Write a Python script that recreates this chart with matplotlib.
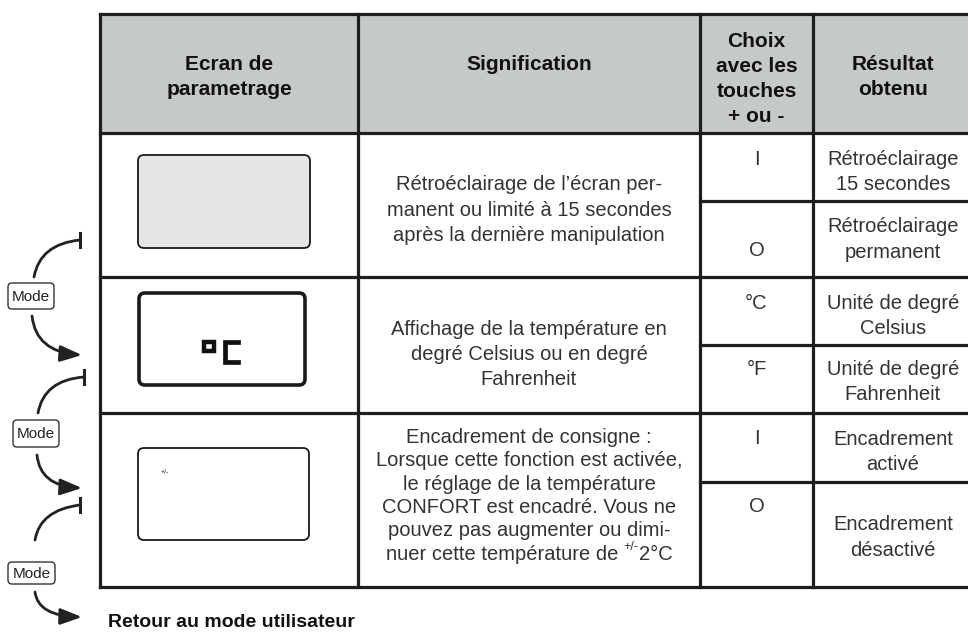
import matplotlib
matplotlib.use("Agg")
import matplotlib.pyplot as plt
from matplotlib.patches import Rectangle, FancyBboxPatch, FancyArrowPatch
from matplotlib.path import Path

plt.rcParams['font.family'] = ['Liberation Sans', 'DejaVu Sans']

# ---------------- data ----------------
headers = [["Ecran de", "parametrage"],
           ["Signification"],
           ["Choix", "avec les", "touches", "+ ou -"],
           ["Résultat", "obtenu"]]

significations = [
    ["Rétroéclairage de l’écran per-", "manent ou limité à 15 secondes",
     "après la dernière manipulation"],
    ["Affichage de la température en", "degré Celsius ou en degré",
     "Fahrenheit"],
    ["Encadrement de consigne :", "Lorsque cette fonction est activée,",
     "le réglage de la température", "CONFORT est encadré. Vous ne",
     "pouvez pas augmenter ou dimi-"],
]
last_line = ["nuer cette température de ", "+/-", "2°C"]

choix = [["I", "O"], ["°C", "°F"], ["I", "O"]]

resultats = [[["Rétroéclairage", "15 secondes"], ["Rétroéclairage", "permanent"]],
             [["Unité de degré", "Celsius"], ["Unité de degré", "Fahrenheit"]],
             [["Encadrement", "activé"], ["Encadrement", "désactivé"]]]

mode_label = "Mode"
footer = "Retour au mode utilisateur"

# ---------------- layout (pixels) ----------------
W, H = 968, 632
fig = plt.figure(figsize=(W / 100, H / 100), dpi=100)
ax = fig.add_axes([0, 0, 1, 1])
ax.set_xlim(0, W)
ax.set_ylim(H, 0)
ax.axis('off')
renderer = fig.canvas.get_renderer()

col_x = [100, 358, 700, 813, 975]
row_y = [14, 133, 277, 413, 587]
sub_y = [201, 345, 482]
LW = 2.3
LC = '#1e1e1e'
TC = '#333333'

# header fill
ax.add_patch(Rectangle((col_x[0], row_y[0]), col_x[-1] - col_x[0], row_y[1] - row_y[0],
                       facecolor='#c6c9ca', edgecolor='none', zorder=0))
for y in row_y:
    ax.plot([col_x[0], col_x[-1]], [y, y], color=LC, lw=LW, solid_capstyle='projecting')
for y in sub_y:
    ax.plot([col_x[2], col_x[-1]], [y, y], color=LC, lw=LW)
for x in col_x[:-1]:
    ax.plot([x, x], [row_y[0], row_y[-1]], color=LC, lw=LW, solid_capstyle='projecting')

FS = 14.5
HFS = 15


def lines(x, y0, pitch, items, **kw):
    for i, s in enumerate(items):
        ax.text(x, y0 + i * pitch + 7, s, ha='center', va='baseline', **kw)


cx = [(col_x[i] + col_x[i + 1]) / 2 for i in range(4)]
cx[3] = 893

hdr_y0 = [63, 63, 40, 63]
for i, h in enumerate(headers):
    lines(cx[i], hdr_y0[i], 25, h, fontsize=HFS, fontweight='bold', color='#111111')

sig_y0 = [183, 328, 436]
sig_pitch = [25.5, 25, 23.3]
for i, s in enumerate(significations):
    lines(cx[1], sig_y0[i], sig_pitch[i], s, fontsize=FS, color=TC)

# last line with superscript, measured and centred
yl = sig_y0[2] + 5 * sig_pitch[2] + 7
sizes = [FS, 9, FS]
widths = []
for s, fs in zip(last_line, sizes):
    t = ax.text(0, 0, s.replace(' ', '\u00a0'), fontsize=fs)
    widths.append(t.get_window_extent(renderer).width)
    t.remove()
x = cx[1] - sum(widths) / 2
dys = [0, -9, 0]
for s, fs, wd, dy in zip(last_line, sizes, widths, dys):
    ax.text(x, yl + dy, s.replace(' ', '\u00a0'), fontsize=fs, color=TC, ha='left', va='baseline')
    x += wd

choix_y = [[158, 249], [302, 368], [437, 505]]
for i, pair in enumerate(choix):
    for j, s in enumerate(pair):
        ax.text(cx[2], choix_y[i][j] + 7, s, ha='center', va='baseline', fontsize=FS, color=TC)

res_y0 = [[158, 225], [302, 368], [438, 523]]
for i, pair in enumerate(resultats):
    for j, s in enumerate(pair):
        lines(cx[3], res_y0[i][j], 25.5, s, fontsize=FS, color=TC)


def screen(x0, y0, x1, y1, fc, lw):
    ax.add_patch(FancyBboxPatch((x0, y0), x1 - x0, y1 - y0,
                                boxstyle='round,pad=0,rounding_size=6',
                                facecolor=fc, edgecolor='#1a1a1a', lw=lw, zorder=2))

screen(138, 155, 310, 248, '#e6e6e6', 1.3)
screen(139, 293, 305, 385, 'white', 2.6)
screen(138, 448, 309, 540, 'white', 1.3)

# °C segment glyph
ax.add_patch(Rectangle((203.5, 341.5), 10, 9, facecolor='none', edgecolor='#111', lw=3.2, zorder=3))
ax.plot([238, 225, 225, 238], [342, 342, 362, 362], color='#111', lw=3.4,
        solid_joinstyle='miter', zorder=3)
ax.text(165, 473, "+/-", fontsize=5, ha='center', va='center', color='#333')

# Mode buttons and arrows
mode_boxes = [(8, 283, 46, 26), (13, 420, 46, 27), (8, 562, 47, 22)]
for (x, y, w, h) in mode_boxes:
    ax.add_patch(FancyBboxPatch((x, y), w, h, boxstyle='round,pad=0,rounding_size=4',
                                facecolor='white', edgecolor='#333', lw=1.0, zorder=3))
    ax.text(x + w / 2, y + h / 2 + 1, mode_label, fontsize=11, ha='center',
            va='center', color='#222', zorder=4)

up_curves = [((34, 277), (40, 244), (80, 240)),
             ((38, 413), (44, 380), (84, 377)),
             ((35, 540), (40, 510), (80, 505))]
for p0, c, p1 in up_curves:
    path = Path([p0, c, p1], [Path.MOVETO, Path.CURVE3, Path.CURVE3])
    ax.add_patch(FancyArrowPatch(path=path, arrowstyle='-', color='#222', lw=2.0))
    ax.plot([p1[0], p1[0]], [p1[1] - 7, p1[1] + 7], color='#222', lw=2.2)

down_curves = [((32, 316), (36, 352), (82, 355)),
               ((37, 455), (40, 486), (82, 488)),
               ((35, 592), (38, 616), (82, 617))]
for p0, c, p1 in down_curves:
    path = Path([p0, c, p1], [Path.MOVETO, Path.CURVE3, Path.CURVE3])
    ax.add_patch(FancyArrowPatch(path=path, arrowstyle='-|>,head_length=1.2,head_width=0.45',
                                 mutation_scale=11, color='#222', lw=2.0))

ax.text(108, 620 + 7, footer, fontsize=14, fontweight='bold', ha='left',
        va='baseline', color='#111')

fig.savefig('out.png', dpi=100)
